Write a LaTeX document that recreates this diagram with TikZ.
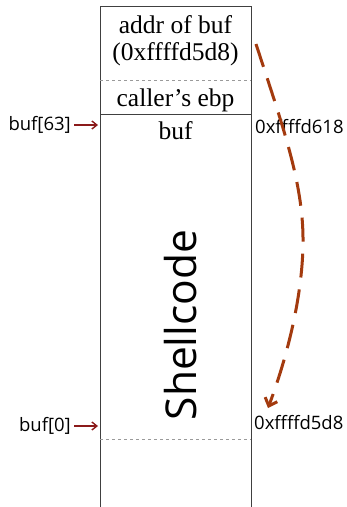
\documentclass[tikz,border=0pt]{standalone}
\usepackage{fontspec}
\setmainfont{Liberation Serif}
\setsansfont{Open Sans}
\usetikzlibrary{arrows.meta}
\definecolor{ptrred}{HTML}{8B1A1A}
\definecolor{jumpcol}{HTML}{A33A0E}
\definecolor{sepgray}{HTML}{9A9A9A}
\tikzset{
  x=1pt, y=-1pt,
  frame/.style={draw=black!75, line width=0.8pt},
  sepline/.style={draw=sepgray, dashed, line width=0.6pt},
  celltext/.style={font=\fontsize{25.5}{29}\selectfont, inner sep=0pt, anchor=center},
  sidelabel/.style={font=\sffamily\fontsize{18.5}{21}\selectfont, inner sep=0pt},
  ptr/.style={draw=ptrred, line width=1.4pt, -{Straight Barb[length=5pt,width=8pt]}},
  jump/.style={draw=jumpcol, line width=3pt, dash pattern=on 24pt off 12pt,
    -{Straight Barb[length=7pt,width=13pt,line width=3pt]}}
}
\begin{document}
\begin{tikzpicture}
\useasboundingbox (0,0) rectangle (347,507);
% stack frame outline
\draw[frame] (100,507) -- (100,6) -- (251,6) -- (251,507);
\draw[sepline] (100,80) -- (251,80);
\draw[frame] (100,114) -- (251,114);
\draw[sepline] (100,439) -- (251,439);
% cell contents
\node[celltext] (ret1) at (175.5,25) {addr of buf};
\node[celltext] (ret2) at (175.5,54) {(0xffffd5d8)};
\node[celltext] (ebp) at (175.5,100) {caller’s ebp};
\node[celltext] (buf) at (175.5,131) {buf};
\node[font=\sffamily\fontsize{42.5}{46}\selectfont, rotate=90, inner sep=0pt] (sc) at (181,325) {Shellcode};
% index pointers
\node[sidelabel, anchor=east] (b63) at (71,125) {buf[63]};
\coordinate (b63tip) at (98,125);
\draw[ptr] ([xshift=3pt]b63.east) -- (b63tip);
\node[sidelabel, anchor=east] (b0) at (71,426) {buf[0]};
\coordinate (b0tip) at (98,426);
\draw[ptr] ([xshift=3pt]b0.east) -- (b0tip);
% addresses
\node[sidelabel, anchor=west] (a618) at (255,127) {0xffffd618};
\node[sidelabel, anchor=west] (a5d8) at (254,423) {0xffffd5d8};
% return jump into the buffer
\coordinate (jfrom) at (256,44);
\coordinate (jmid) at (303,245);
\coordinate (jto) at (268,408);
\draw[jump] (jfrom) .. controls (284,130) and (304,185) .. (jmid)
  .. controls (302,300) and (286,360) .. (jto);
\end{tikzpicture}
\end{document}
